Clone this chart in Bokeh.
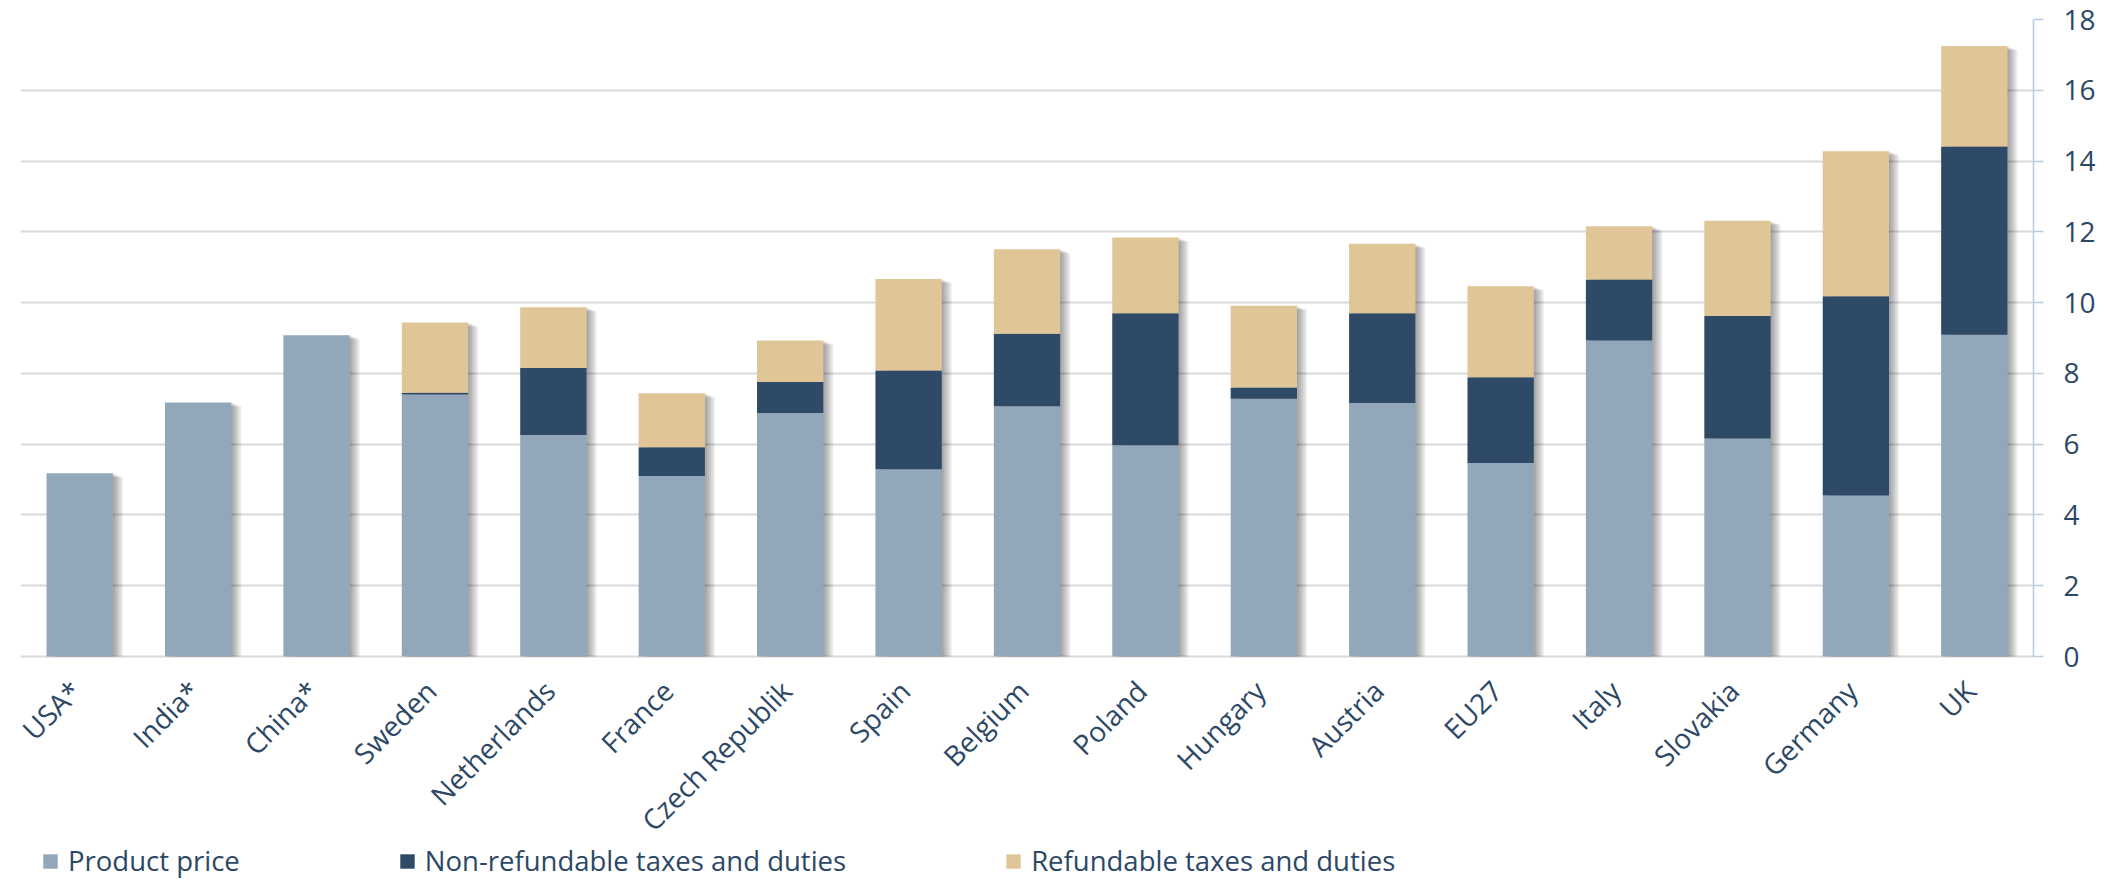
import math

from bokeh.core.properties import value
from bokeh.embed import file_html
from bokeh.models import (ColumnDataSource, FactorRange, FixedTicker, Legend,
                          LegendItem, Range1d)
from bokeh.plotting import figure
from bokeh.resources import INLINE
from bokeh.transform import dodge

# Price build-up per country
countries = ["USA*", "India*", "China*", "Sweden", "Netherlands", "France",
             "Czech Republik", "Spain", "Belgium", "Poland", "Hungary",
             "Austria", "EU27", "Italy", "Slovakia", "Germany", "UK"]
product_price = [5.18, 7.18, 9.08, 7.40, 6.26, 5.10, 6.88, 5.29, 7.07, 5.97,
                 7.28, 7.16, 5.47, 8.93, 6.16, 4.55, 9.09]
non_refundable = [0.0, 0.0, 0.0, 0.05, 1.89, 0.81, 0.88, 2.79, 2.05, 3.73,
                  0.32, 2.54, 2.42, 1.72, 3.46, 5.63, 5.32]
refundable = [0.0, 0.0, 0.0, 1.99, 1.72, 1.53, 1.17, 2.59, 2.39, 2.14,
              2.31, 1.96, 2.57, 1.51, 2.69, 4.10, 2.84]
y_ticks = [0, 2, 4, 6, 8, 10, 12, 14, 16, 18]

series = ["product_price", "non_refundable", "refundable"]
series_labels = ["Product price", "Non-refundable taxes and duties",
                 "Refundable taxes and duties"]
colors = ["#93A7BB", "#2E4A66", "#E0C597"]
text_color = "#2C4866"
font = "Open Sans"

totals = [a + b + c for a, b, c in zip(product_price, non_refundable, refundable)]
source = ColumnDataSource(dict(country=countries, product_price=product_price,
                               non_refundable=non_refundable,
                               refundable=refundable, total=totals))

# The frame runs down to the bottom edge: the value scale is 0..18 over the
# upper 637 px, and the band below zero holds the country names and legend.
frame_w, frame_h = 2013, 860
plot_h = 637
px_y = 18.0 / plot_h                     # one pixel in value units
px_x = 1.0 * len(countries) / frame_w    # one pixel in category units
y_bottom = -(frame_h - plot_h) * px_y

p = figure(x_range=FactorRange(*countries, range_padding=0),
           y_range=Range1d(y_bottom, 18),
           frame_width=frame_w, frame_height=frame_h,
           min_border_left=20, min_border_top=19,
           min_border_right=88, min_border_bottom=0,
           x_axis_location=None, y_axis_location="right",
           output_backend="svg", toolbar_location=None,
           background_fill_color="white", border_fill_color="white")
p.outline_line_color = None

bar_w = 0.56

# soft drop shadow to the right of each bar
for d in (2, 4, 6, 8, 10):
    shadow = ColumnDataSource(dict(country=countries,
                                   top=[t - d * 0.4 * px_y for t in totals]))
    p.vbar(x=dodge("country", d * px_x, range=p.x_range), top="top", bottom=0,
           width=bar_w, source=shadow, fill_color="black", fill_alpha=0.08,
           line_color=None)

renderers = p.vbar_stack(series, x="country", width=bar_w, color=colors,
                         line_color=None, source=source)

# country names, slanted at 45 degrees and ending under each bar
p.text(x="country", y=0, text="country", source=source,
       angle=math.pi / 4, text_align="right", text_baseline="middle",
       x_offset=-4, y_offset=29,
       text_font=value(font), text_font_size="28px", text_color=text_color)

# value axis on the right, drawn over 0..18 only
ya = p.yaxis[0]
ya.bounds = (0, 18)
ya.ticker = FixedTicker(ticks=y_ticks)
ya.axis_line_color = "#B9CADB"
ya.axis_line_width = 1.5
ya.major_tick_line_color = "#B9CADB"
ya.major_tick_line_width = 1.5
ya.major_tick_out = 10
ya.major_tick_in = 0
ya.minor_tick_line_color = None
ya.major_label_text_font = font
ya.major_label_text_font_size = "28px"
ya.major_label_text_color = text_color
ya.major_label_standoff = 20

p.xgrid.grid_line_color = None
p.ygrid.ticker = FixedTicker(ticks=y_ticks)
p.ygrid.grid_line_color = "#D9D9D9"
p.ygrid.grid_line_width = 2

# legend row along the bottom edge
legend = Legend(items=[LegendItem(label=lab, renderers=[r])
                       for lab, r in zip(series_labels, renderers)],
                orientation="horizontal", location=(21, 0),
                border_line_color=None, background_fill_alpha=0,
                glyph_width=18, glyph_height=18, label_standoff=9,
                spacing=158, padding=0, margin=0,
                label_text_font=font, label_text_font_size="27.5px",
                label_text_color=text_color)
p.add_layout(legend, "center")

open("out.html", "w").write(file_html(p, INLINE))
